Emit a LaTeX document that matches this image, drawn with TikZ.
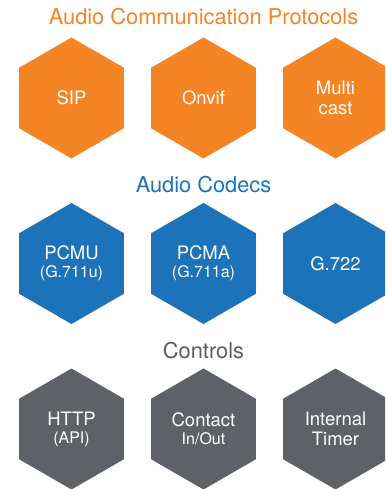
\documentclass[tikz,border=0pt]{standalone}
\usepackage{fontspec}
\setmainfont{TeX Gyre Heros}
\usetikzlibrary{shapes.geometric}
\definecolor{hexorange}{HTML}{F48424}
\definecolor{hexblue}{HTML}{1C73BA}
\definecolor{hexgray}{HTML}{5E6165}
\definecolor{titlegray}{HTML}{5B5D60}
\tikzset{
  x=1pt, y=1pt,
  hexa/.style={regular polygon, regular polygon sides=6, shape border rotate=30,
    minimum size=121pt, inner sep=0pt, draw=none, text=white, align=center,
    font=\fontsize{18.5}{19.5}\selectfont},
  hexo/.style={hexa, fill=hexorange},
  hexb/.style={hexa, fill=hexblue},
  hexg/.style={hexa, fill=hexgray},
  title/.style={font=\fontsize{21.8}{24}\selectfont, inner sep=0pt}
}
\newcommand{\subtxt}[1]{{\fontsize{16}{17}\selectfont #1}}
\begin{document}
\begin{tikzpicture}
\useasboundingbox (0,0) rectangle (385,-489);
\clip (0,0) rectangle (385,-489);
% titles
\node[title, text=hexorange] (t1) at (203.5,-16.5) {Audio Communication Protocols};
\node[title, text=hexblue] (t2) at (203.5,-185) {Audio Codecs};
\node[title, text=titlegray] (t3) at (203.5,-351) {Controls};
% row 1
\node[hexo] (sip) at (71.5,-98) {SIP};
\node[hexo] (onvif) at (203.5,-98) {Onvif};
\node[hexo] (multi) at (335.5,-98) {Multi\\cast};
% row 2
\node[hexb] (pcmu) at (71.5,-263.5) {PCMU\\[-1.5pt]\subtxt{(G.711u)}};
\node[hexb] (pcma) at (203.5,-263.5) {PCMA\\[-1.5pt]\subtxt{(G.711a)}};
\node[hexb] (g722) at (335.5,-263.5) {G.722};
% row 3
\node[hexg] (http) at (71.5,-429) {HTTP\\[-1.5pt]\subtxt{(API)}};
\node[hexg] (contact) at (203.5,-429) {Contact\\[-1.5pt]\subtxt{In/Out}};
\node[hexg] (timer) at (335.5,-429) {Internal\\Timer};
\end{tikzpicture}
\end{document}
